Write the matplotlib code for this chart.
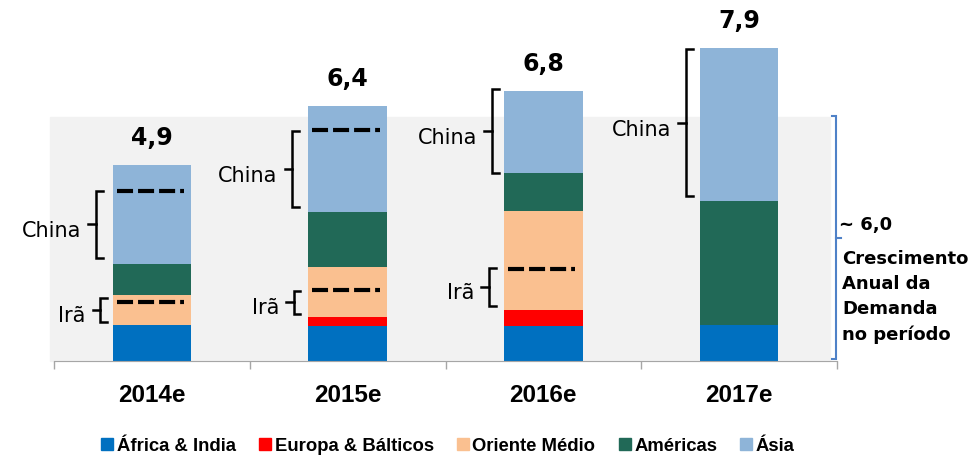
import matplotlib
matplotlib.use("Agg")
import matplotlib.pyplot as plt
from matplotlib.patches import Patch

# data (mi b/d)
years = ["2014e", "2015e", "2016e", "2017e"]
africa = [0.9, 0.875, 0.875, 0.9]
europa = [-0.03, 0.225, 0.4, 0.0]
oriente = [0.75, 1.25, 2.475, 0.0]
americas = [0.775, 1.375, 0.95, 3.1]
asia = [2.475, 2.65, 2.05, 3.825]
totals = [4.9, 6.4, 6.8, 7.9]

series_names = ["África & India", "Europa & Bálticos", "Oriente Médio", "Américas", "Ásia"]
series_colors = ["#0070C0", "#FF0000", "#FAC090", "#216957", "#8EB4D8"]

# dashed markers and braces (value levels)
china_dash = [4.25, 5.78, None, None]
iran_dash = [1.48, 1.78, 2.3, None]
china_brace = [(4.25, 2.58), (5.75, 3.85), (6.8, 4.7), (7.8, 4.12)]
iran_brace = [(1.58, 0.98), (1.75, 1.18), (2.33, 1.38), None]
china_brace_x = [-0.284, -0.282, -0.261, -0.271]
iran_brace_x = [-0.263, -0.276, -0.277, None]

band_top = 6.1   # ~6,0 crescimento anual

BOLD = "DejaVu Sans"
NARROW = "Liberation Sans"

fig = plt.figure(figsize=(9.73, 4.56), dpi=100)
ax = fig.add_axes([54 / 973, 94 / 456, 783 / 973, 362 / 456])
ax.set_xlim(-0.5, 3.5)
ax.set_ylim(0, 9.05)
ax.patch.set_visible(False)

ax.axhspan(0, band_top, xmin=-0.005, xmax=0.991, color="#F2F2F2", zorder=0, clip_on=False)

x = range(len(years))
w = 0.40
bottom = [0.0] * len(years)
for vals, color in zip([africa, europa, oriente, americas, asia], series_colors):
    for i in x:
        v = vals[i]
        if v < 0:
            ax.bar(i, v, w, bottom=0, color=color, zorder=2, clip_on=False)
        elif v > 0:
            ax.bar(i, v, w, bottom=bottom[i], color=color, zorder=2)
            bottom[i] += v

# total labels
for i in x:
    ax.annotate(f"{totals[i]:.1f}".replace(".", ","), (i, bottom[i]), xytext=(0, 20),
                textcoords="offset points", ha="center", va="center",
                fontsize=17, fontweight="bold", family=BOLD)

# dashed lines
for levels in [china_dash, iran_dash]:
    for i in x:
        if levels[i] is None:
            continue
        ax.plot([i - 0.18, i + 0.163], [levels[i], levels[i]], color="black", lw=3,
                linestyle=(0, (3.85, 1.2)), solid_capstyle="butt", dash_capstyle="butt", zorder=3)


def brace(ax, xl, y0, y1, side=1, color="black", hook=0.034, tip=0.04, lw=1.8):
    ym = (y0 + y1) / 2
    ax.plot([xl + side * hook, xl, xl, xl + side * hook], [y0, y0, y1, y1],
            color=color, lw=lw, clip_on=False, zorder=3, solid_joinstyle="miter")
    ax.plot([xl, xl - side * tip], [ym, ym], color=color, lw=lw, clip_on=False, zorder=3)
    return ym


for i in x:
    y0, y1 = china_brace[i]
    ym = brace(ax, i + china_brace_x[i], y0, y1)
    ax.text(i + china_brace_x[i] - 0.075, ym - 0.15, "China", ha="right", va="center",
            fontsize=15, family="DejaVu Sans")
    if iran_brace[i] is not None:
        y0, y1 = iran_brace[i]
        ym = brace(ax, i + iran_brace_x[i], y0, y1)
        ax.text(i + iran_brace_x[i] - 0.075, ym - 0.12, "Irã", ha="right", va="center",
                fontsize=15, family="DejaVu Sans")

# right bracket for annual demand growth
brace(ax, 3.495, band_top + 0.02, 0.05, side=-1, color="#4F81C7", hook=0.02, tip=0.025, lw=1.5)
ax.text(3.508, 3.42, "~ 6,0", ha="left", va="center", fontsize=13, fontweight="bold", family=BOLD)
ax.text(3.525, 2.8, "Crescimento\nAnual da\nDemanda\nno período", ha="left", va="top",
        fontsize=13, fontweight="bold", family=BOLD, linespacing=1.5)

# axes styling
for s in ["top", "right", "left"]:
    ax.spines[s].set_visible(False)
ax.spines["bottom"].set_color("#A6A6A6")
ax.set_yticks([])
ax.set_xticks(list(x))
ax.set_xticklabels(years, fontsize=17.5, fontweight="bold", family=NARROW)
ax.tick_params(axis="x", which="major", length=0, pad=16)
ax.set_xticks([-0.5, 0.5, 1.5, 2.5, 3.5], minor=True)
ax.tick_params(axis="x", which="minor", length=6, color="#A6A6A6", width=1)

handles = [Patch(color=c) for c in series_colors]
fig.legend(handles, series_names, loc="center", bbox_to_anchor=(448 / 973, 1 - 447 / 456),
           ncol=5, frameon=False, handlelength=0.65, handleheight=0.65, handletextpad=0.2,
           columnspacing=1.25, prop={"family": NARROW, "weight": "bold", "size": 13.3})

fig.savefig("out.png", dpi=100)
